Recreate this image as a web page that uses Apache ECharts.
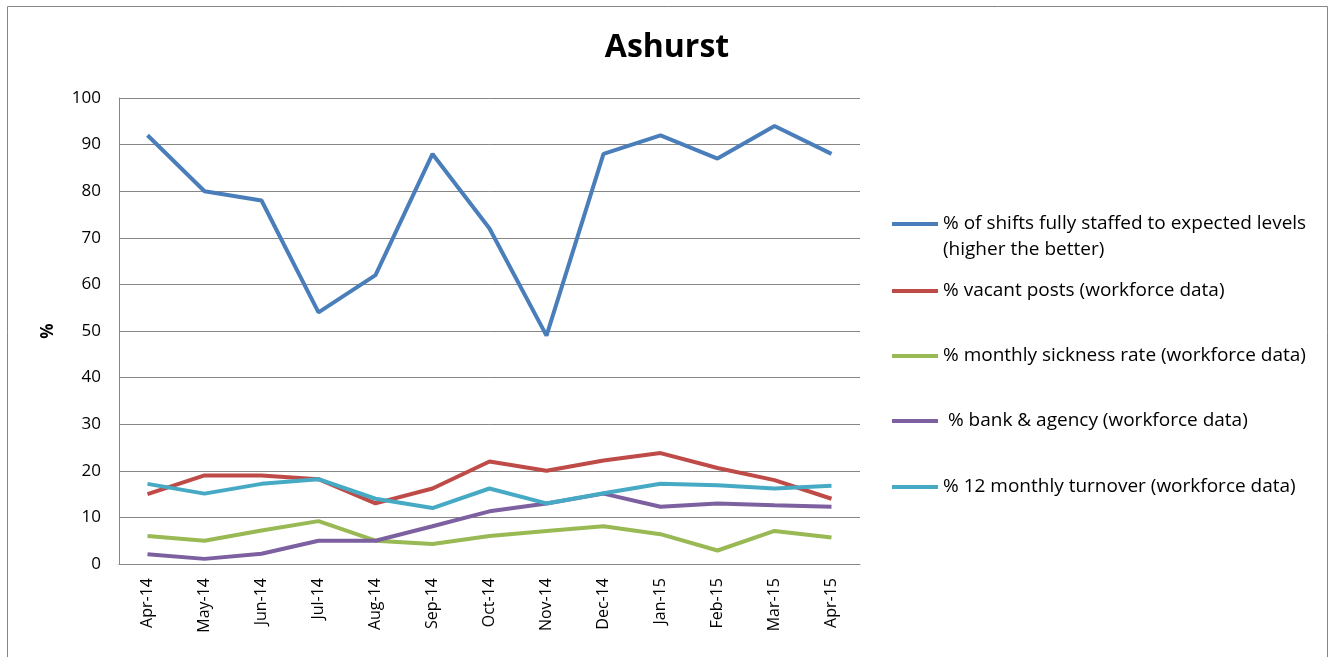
<!DOCTYPE html>
<html>
<head>
<meta charset="utf-8">
<script src="https://cdn.jsdelivr.net/npm/echarts@6/dist/echarts.min.js"></script>
<style>
  html, body { margin: 0; padding: 0; background: #fff; }
  #chart { width: 1334px; height: 657px; }
</style>
</head>
<body>
<div id="chart"></div>
<script>
  // data
  var months = ['Apr-14', 'May-14', 'Jun-14', 'Jul-14', 'Aug-14', 'Sep-14', 'Oct-14',
                'Nov-14', 'Dec-14', 'Jan-15', 'Feb-15', 'Mar-15', 'Apr-15'];
  var fullyStaffed = [92, 80, 78, 54, 62, 88, 72, 49, 88, 92, 87, 94, 88];
  var vacantPosts  = [15, 19, 19, 18.2, 13, 16.2, 22, 20, 22.2, 23.8, 20.6, 18, 14];
  var sickness     = [6, 5, 7.2, 9.2, 5, 4.3, 6, 7.1, 8.1, 6.4, 2.9, 7.1, 5.7];
  var bankAgency   = [2.1, 1.1, 2.2, 5, 5, 8.1, 11.3, 13, 15.1, 12.3, 13, 12.6, 12.3];
  var turnover     = [17.2, 15.1, 17.2, 18.2, 14, 12, 16.2, 13, 15.2, 17.2, 16.9, 16.2, 16.8];

  var names = [
    '% of shifts fully staffed to expected levels\n(higher the better)',
    '% vacant posts (workforce data)',
    '% monthly sickness rate (workforce data)',
    ' % bank & agency (workforce data)',
    '% 12 monthly turnover (workforce data)'
  ];
  var colors = ['#4a7ebb', '#be4b48', '#98b954', '#7d60a0', '#46aac5'];
  var values = [fullyStaffed, vacantPosts, sickness, bankAgency, turnover];
  var legendTops = [185, 278, 343, 408, 474];

  var font = 'Open Sans';
  var myChart = echarts.init(document.getElementById('chart'));

  var series = [];
  var legends = [];
  for (var i = 0; i < names.length; i++) {
    series.push({
      name: names[i],
      type: 'line',
      data: values[i],
      showSymbol: false,
      symbol: 'none',
      lineStyle: { width: 4, color: colors[i] },
      itemStyle: { color: colors[i] },
      animation: false
    });
    legends.push({
      data: [names[i]],
      left: 892,
      top: legendTops[i],
      padding: 0,
      icon: 'rect',
      itemWidth: 46,
      itemHeight: 4,
      selectedMode: false,
      // empty first line keeps the icon level with the first text line
      formatter: i === 0 ? function (n) { return '\n' + n; } : '{name}',
      textStyle: {
        fontFamily: font,
        fontSize: 19,
        color: '#000',
        lineHeight: 26
      }
    });
  }

  var option = {
    backgroundColor: '#fff',
    color: colors,
    title: {
      text: 'Ashurst',
      left: 'center',
      top: 27,
      textStyle: { fontFamily: font, fontSize: 32, fontWeight: 'bold', color: '#000' }
    },
    legend: legends,
    grid: { left: 119, right: 474, top: 98, bottom: 93 },
    xAxis: {
      type: 'category',
      data: months,
      boundaryGap: true,
      axisLine: { lineStyle: { color: '#868686', width: 1 } },
      axisTick: { show: false },
      axisLabel: { rotate: 90, margin: 14, fontFamily: font, fontSize: 16, color: '#000' }
    },
    yAxis: {
      type: 'value',
      min: 0,
      max: 100,
      interval: 10,
      name: '%',
      nameLocation: 'middle',
      nameGap: 62,
      nameTextStyle: { fontFamily: font, fontSize: 17, fontWeight: 'bold', color: '#000' },
      axisLine: { show: true, lineStyle: { color: '#868686', width: 1 } },
      axisTick: { show: false },
      splitLine: { lineStyle: { color: '#868686', width: 1 } },
      axisLabel: { margin: 18, fontFamily: font, fontSize: 17, color: '#000' }
    },
    graphic: [{
      type: 'rect',
      shape: { x: 7.5, y: 6.5, width: 1320, height: 700 },
      style: { fill: 'none', stroke: '#868686', lineWidth: 1 },
      silent: true
    }],
    series: series
  };
  myChart.setOption(option);
</script>
</body>
</html>
